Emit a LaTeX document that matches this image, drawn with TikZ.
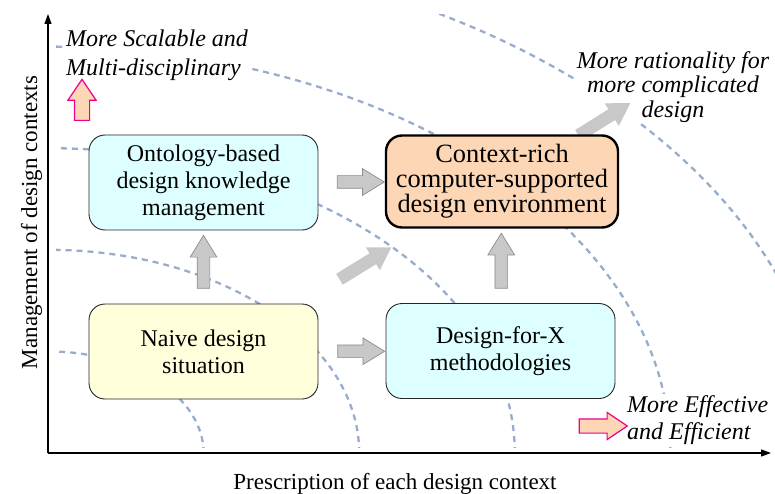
\documentclass[tikz,border=0pt]{standalone}
\usepackage{fontspec}
\setmainfont{Liberation Serif}
\usetikzlibrary{shapes.arrows,arrows.meta,calc}

\definecolor{arccol}{RGB}{152,172,206}
\definecolor{cyanfill}{RGB}{222,255,255}
\definecolor{yellowfill}{RGB}{255,255,220}
\definecolor{peachfill}{RGB}{252,214,181}
\definecolor{grayfill}{RGB}{200,200,200}
\definecolor{grayline}{RGB}{140,140,140}

\begin{document}
\begin{tikzpicture}[x=1pt,y=-1pt,
    box/.style={draw=black!85, line width=0.9pt, rounded corners=16pt,
      minimum width=229pt, minimum height=95pt, align=center,
      font=\fontsize{24}{27}\selectfont},
    ctxarc/.style={arccol, line width=2.3pt, dash pattern=on 6pt off 5pt},
    grayarr/.style={single arrow, fill=grayfill, draw=grayline, line width=0.7pt,
      inner sep=0pt, text height=6pt, text depth=6pt,
      single arrow head extend=7pt, single arrow tip angle=63, minimum height=47pt},
    pinkarr/.style={single arrow, fill=peachfill, draw=magenta, line width=1.2pt,
      inner sep=0pt, text height=7pt, text depth=7pt,
      single arrow head extend=6.5pt, single arrow tip angle=68, minimum height=41pt},
    note/.style={fill=white, inner sep=1pt, font=\fontsize{24}{28.5}\selectfont\itshape}]
  \useasboundingbox (0,0) rectangle (775,494);
  \coordinate (O) at (48,453);
  \coordinate (ytop) at (48,14);
  \coordinate (xend) at (771,453);

  % context levels
  \begin{scope}
    \clip (56,15) rectangle (775,447);
    \foreach \r in {1,...,5}
      \draw[ctxarc] (O) ++(\r*155.6pt,0pt)
        arc[start angle=0, end angle=90, x radius=\r*155.6pt, y radius=\r*101.6pt];
  \end{scope}

  % axes
  \draw[line width=1.2pt, -{Triangle[length=10pt,width=7pt]}] (O) -- (ytop);
  \draw[line width=1.2pt, -{Triangle[length=10pt,width=7pt]}] (O) -- (xend);
  \node[font=\fontsize{23}{27}\selectfont, rotate=90, anchor=base] (ylab) at (37,222.5)
    {Management of design contexts};
  \node[font=\fontsize{23}{27}\selectfont, anchor=base] (xlab) at (395,489)
    {Prescription of each design context};

  \node[note, align=left, anchor=north west] (scal) at (65,29)
    {More Scalable and\\Multi-disciplinary};
  \node[note, align=center, anchor=north, font=\fontsize{24}{24.5}\selectfont\itshape] (rat)
    at (673,50) {More rationality for\\more complicated\\design};
  \node[note, align=left, anchor=north west, font=\fontsize{24}{27}\selectfont\itshape] (eff)
    at (626,394) {More Effective\\and Efficient};

  \node[grayarr, draw=none, rotate=32, minimum height=61pt] (out) at (600,122) {};

  \node[box, fill=cyanfill] (onto) at (203.5,182.5)
    {Ontology-based\\design knowledge\\management};
  \node[box, fill=peachfill, draw=black, line width=2.4pt, minimum width=232pt,
    minimum height=92pt, font=\fontsize{26.4}{25}\selectfont] (ctx) at (502,181.5)
    {Context-rich\\computer-supported\\design environment};
  \node[box, fill=yellowfill] (naive) at (203.5,351.5) {Naive design\\situation};
  \node[box, fill=cyanfill] (dfx) at (500.5,351) {Design-for-X\\methodologies};

  \node[grayarr] (a1) at ($(onto.east)!0.5!(ctx.west)+(4,0)$) {};
  \node[grayarr] (a2) at ($(naive.east)!0.5!(dfx.west)+(4,0)$) {};
  \node[grayarr, rotate=90, minimum height=53pt] (a3) at ($(naive.north)!0.5!(onto.south)$) {};
  \node[grayarr, rotate=90, minimum height=55pt] (a4) at ($(dfx.north)!0.5!(ctx.south)$) {};
  \node[grayarr, draw=none, rotate=31.6, minimum height=61pt] (a5) at (361,266) {};

  \node[pinkarr, rotate=90] (up) at (82,105.5) {};
  \node[pinkarr, minimum height=48pt, text height=6.5pt, text depth=6.5pt] (right) at (598,426) {};
\end{tikzpicture}
\end{document}
